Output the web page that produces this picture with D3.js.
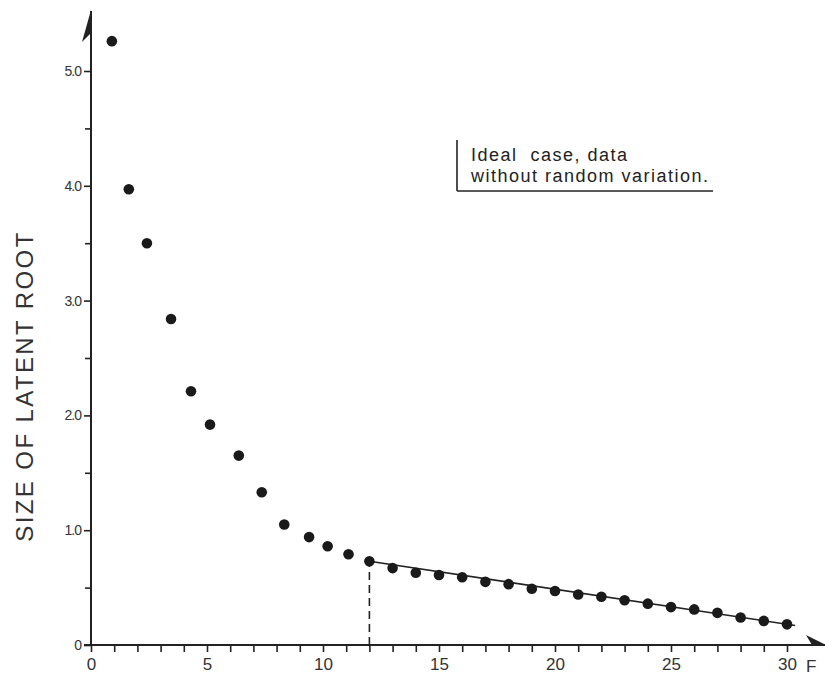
<!DOCTYPE html>
<html>
<head>
<meta charset="utf-8">
<script src="https://cdn.jsdelivr.net/npm/d3@7"></script>
<style>
  body { margin: 0; background: #fff; }
  svg { display: block; font-family: "Liberation Sans", Arial, sans-serif; }
</style>
</head>
<body>
<svg id="chart" width="825" height="676"></svg>
<script>
/* factor positions as drawn on the page, and the size of each latent root */
var factorPos = [0.9, 1.63, 2.41, 3.45, 4.31, 5.13, 6.37, 7.36, 8.33, 9.4, 10.2, 11.1,
  12, 13, 14, 15, 16, 17, 18, 19, 20, 21, 22, 23, 24, 25, 26, 27, 28, 29, 30];
var rootSize = [5.26, 3.97, 3.50, 2.84, 2.21, 1.92, 1.65, 1.33, 1.05, 0.94, 0.86, 0.79,
  0.73, 0.67, 0.63, 0.61, 0.59, 0.55, 0.53, 0.49, 0.47, 0.44, 0.42, 0.39, 0.36, 0.33,
  0.31, 0.28, 0.24, 0.21, 0.18];

/* straight scree line and the cut-off */
var screeX = [12, 30.35];
var screeY = [0.73, 0.17];
var cutoff = 12;

var yMajor = [0, 1, 2, 3, 4, 5];
var yMinor = [0.5, 1.5, 2.5, 3.5, 4.5];
var xTicks = d3.range(0, 31);
var noteLines = ["Ideal  case, data", "without random variation."];

var svg = d3.select("#chart");
var ink = "#222";

var x = d3.scaleLinear().domain([0, 30]).range([91, 787]);
var y = d3.scaleLinear().domain([0, 5]).range([645, 71]);

/* y axis: major + minor ticks */
var gy = svg.append("g").attr("transform", "translate(" + x(0) + ",0)");
gy.call(d3.axisLeft(y).tickValues(yMajor).tickSize(7).tickPadding(3)
  .tickFormat(function(d) { return d === 0 ? "0" : d.toFixed(1); }));
gy.append("g").call(d3.axisLeft(y).tickValues(yMinor).tickSize(6).tickFormat(""));
gy.selectAll(".domain").remove();
gy.selectAll("line").attr("stroke", ink).attr("stroke-width", 1.6);
gy.selectAll("text").attr("fill", "#333").style("font-size", "14px")
  .attr("letter-spacing", "-1px");

/* x axis */
var gx = svg.append("g").attr("transform", "translate(0," + y(0) + ")");
gx.call(d3.axisBottom(x).tickValues(xTicks).tickSize(7).tickPadding(6)
  .tickFormat(function(d) { return d % 5 === 0 ? d : ""; }));
gx.select(".domain").remove();
gx.selectAll("line").attr("stroke", ink).attr("stroke-width", 1.6);
gx.selectAll("text").attr("fill", "#333").style("font-size", "17px");

/* axis lines with half arrow heads */
svg.append("line").attr("x1", x(0)).attr("x2", x(0))
  .attr("y1", y(0) + 1).attr("y2", 11)
  .attr("stroke", ink).attr("stroke-width", 2);
svg.append("path")
  .attr("d", "M" + x(0) + ",10 L" + (x(0) - 9) + ",42 L" + x(0) + ",33 Z")
  .attr("fill", ink);
svg.append("line").attr("x1", 84).attr("x2", 825)
  .attr("y1", y(0)).attr("y2", y(0))
  .attr("stroke", ink).attr("stroke-width", 2);
svg.append("path")
  .attr("d", "M826," + y(0) + " L806," + (y(0) - 10) + " L812," + y(0) + " Z")
  .attr("fill", ink);

svg.append("text").attr("x", 806).attr("y", 672)
  .attr("fill", "#333").style("font-size", "17px").text("F");

/* y title */
svg.append("text")
  .attr("transform", "translate(33,386) rotate(-90)")
  .attr("text-anchor", "middle")
  .attr("fill", "#333")
  .attr("letter-spacing", "2.4px")
  .style("font-size", "24px")
  .text("SIZE OF LATENT ROOT");

/* dashed cut-off */
svg.append("line")
  .attr("x1", x(cutoff)).attr("x2", x(cutoff))
  .attr("y1", y(0)).attr("y2", y(screeY[0]))
  .attr("stroke", ink).attr("stroke-width", 1.6)
  .attr("stroke-dasharray", "8,5");

/* scree line */
svg.append("path")
  .datum(d3.zip(screeX, screeY))
  .attr("d", d3.line().x(function(d) { return x(d[0]); }).y(function(d) { return y(d[1]); }))
  .attr("fill", "none").attr("stroke", ink).attr("stroke-width", 1.6);

/* points */
svg.append("g").selectAll("circle")
  .data(d3.zip(factorPos, rootSize))
  .enter().append("circle")
  .attr("cx", function(d) { return x(d[0]); })
  .attr("cy", function(d) { return y(d[1]); })
  .attr("r", 5.3)
  .attr("fill", "#1a1a1a");

/* annotation */
var note = svg.append("g");
note.append("line").attr("x1", 457).attr("x2", 457).attr("y1", 140).attr("y2", 191)
  .attr("stroke", ink).attr("stroke-width", 1.6);
note.append("line").attr("x1", 457).attr("x2", 713).attr("y1", 191).attr("y2", 191)
  .attr("stroke", ink).attr("stroke-width", 1.6);
note.selectAll("text").data(noteLines).enter().append("text")
  .attr("x", 471)
  .attr("y", function(d, i) { return 161 + i * 21; })
  .attr("fill", "#222")
  .attr("letter-spacing", "1.5px")
  .style("white-space", "pre")
  .style("font-size", "18px")
  .text(function(d) { return d; });
</script>
</body>
</html>
